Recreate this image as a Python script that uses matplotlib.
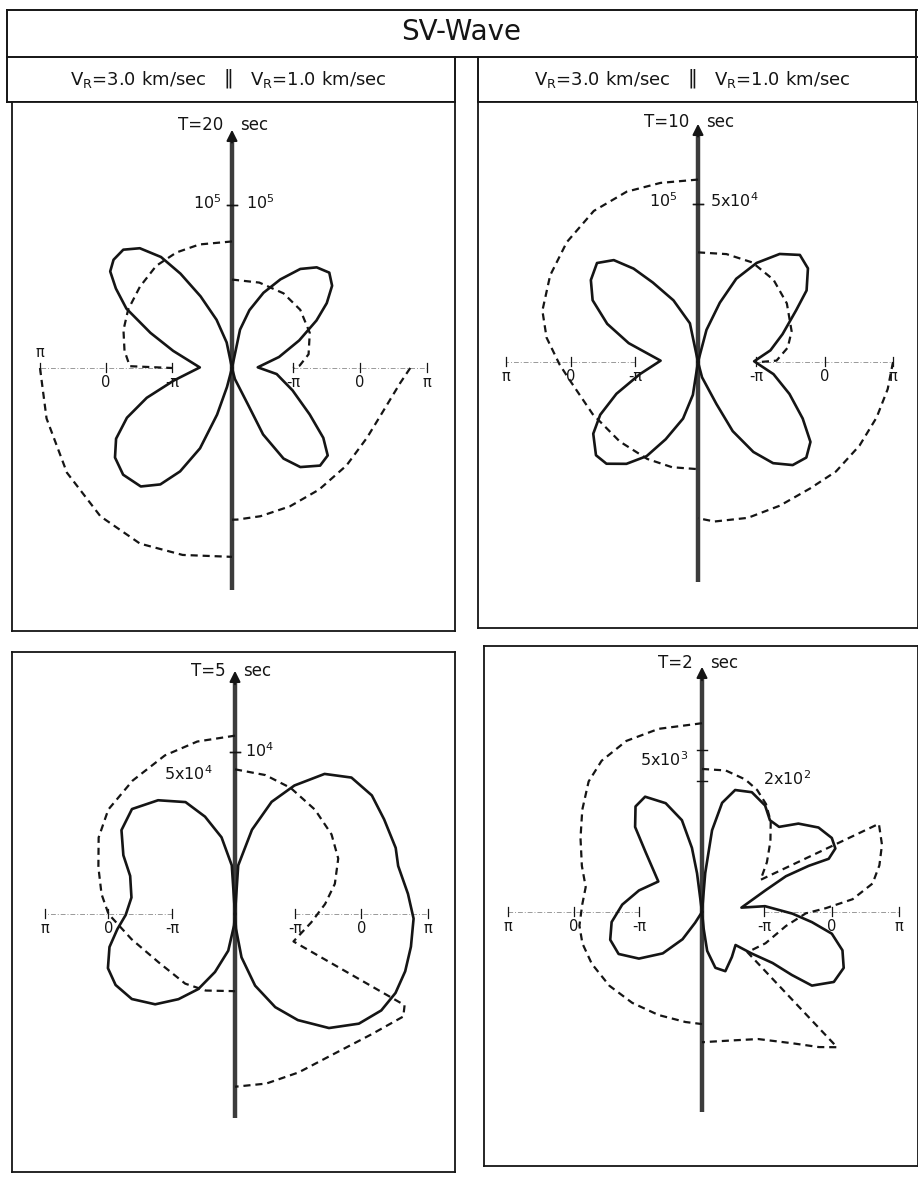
import matplotlib
matplotlib.use("Agg")
import matplotlib.pyplot as plt
import numpy as np

W, H = 918, 1177
nan = np.nan

# ---------------------------------------------------------------------------
# Data.
# Angles: degrees measured from the upward vertical axis (0 = up, 180 = down).
# Amplitude: absolute units (solid curves). Phase: units of pi (dashed curves),
# nan marks a break in the dashed curve.
# ---------------------------------------------------------------------------

# T = 20 sec
t20_amp_l_ang = [0, 12, 18, 24, 29, 33, 38, 43, 48, 52, 56, 61, 67, 74, 89, 102, 109, 115,
                 121, 127, 134, 142, 148, 153, 158, 162, 165, 180]
t20_amp_l = np.array([0, 0.16, 0.31, 0.48, 0.66, 0.81, 0.93, 0.99, 0.99, 0.96, 0.87, 0.75, 0.55,
                      0.38, 0.20, 0.37, 0.56, 0.72, 0.84, 0.91, 0.94, 0.92, 0.84, 0.71, 0.53,
                      0.30, 0.12, 0]) * 1e5
t20_amp_r_ang = [0, 12, 17, 23, 29, 35, 40.5, 46, 51, 56, 61, 68, 77, 88.5, 97.6, 110, 120.5,
                 127, 132, 137.5, 145, 150, 154.6, 156, 165, 180]
t20_amp_r = np.array([0, 0.24, 0.37, 0.50, 0.62, 0.74, 0.81, 0.84, 0.80, 0.71, 0.60, 0.45, 0.30,
                      0.16, 0.28, 0.40, 0.56, 0.71, 0.80, 0.81, 0.74, 0.64, 0.45, 0.25, 0.07,
                      0]) * 1e5
t20_ph_l_ang = [0, 15, 26, 37, 49, 61, 71, 81, 89, 90, nan, 90, 105, 122, 138, 152, 165, 180]
t20_ph_l = [-0.02, 0.0, 0.01, 0.0, -0.06, -0.11, -0.17, -0.26, -0.36, -1.0, nan,
            1.0, 1.0, 1.04, 1.07, 1.06, 0.98, 0.91]
t20_ph_r_ang = [0, 18, 35, 50, 66, 80, 88, 90, nan, 90, 95, 106, 117, 130, 144, 157, 169, 178, 180]
t20_ph_r = [-0.61, -0.59, -0.57, -0.58, -0.64, -0.75, -0.90, -1.0, nan,
            0.75, 0.61, 0.43, 0.35, 0.32, 0.30, 0.30, 0.31, 0.32, 0.32]

# T = 10 sec
t10_amp_l_ang = [0, 12, 22, 30, 35, 40, 46, 53, 60, 67.5, 75, 88, 101.6, 111, 118, 124, 132,
                 137.6, 144.5, 151, 157, 165, 171, 180]
t10_amp_l = np.array([0, 0.25, 0.42, 0.58, 0.72, 0.84, 0.90, 0.86, 0.78, 0.63, 0.46, 0.24, 0.38,
                      0.56, 0.71, 0.81, 0.88, 0.87, 0.79, 0.68, 0.53, 0.37, 0.21, 0]) * 1e5
t10_amp_r_ang = [0, 15, 20.5, 25, 31, 37.5, 44, 50, 57, 62.5, 72, 81, 89.3, 99, 109, 118, 125,
                 131, 137, 143, 148, 153, 156, 165, 180]
t10_amp_r = np.array([0, 0.21, 0.40, 0.58, 0.73, 0.86, 0.94, 0.92, 0.83, 0.71, 0.57, 0.47, 0.36,
                      0.49, 0.62, 0.76, 0.88, 0.92, 0.89, 0.80, 0.67, 0.49, 0.29, 0.10,
                      0]) * 5e4
t10_ph_l_ang = [0, 12, 23, 35, 48, 60, 72, 81, 91, 98, 116, 135, 152, 166, 180]
t10_ph_l = [0.81, 0.82, 0.85, 0.84, 0.76, 0.67, 0.56, 0.40, 0.17, 0.03, -0.16, -0.26, -0.30,
            -0.32, -0.34]
t10_ph_r_ang = [0, 15, 29, 43, 57, 72, 81, 89, 90, nan, 90, 98, 107, 117, 128, 138, 150, 162,
                174, 180]
t10_ph_r = [-0.27, -0.24, -0.21, -0.23, -0.30, -0.41, -0.52, -0.70, -0.94, nan,
            1.0, 0.95, 0.88, 0.80, 0.71, 0.60, 0.54, 0.51, 0.46, 0.40]

# T = 5 sec
t5_amp_l_ang = [0, 4, 10.5, 18, 25, 35.5, 46, 55, 63.5, 71, 81.4, 90.5, 97, 104, 112, 119.4,
                128, 137, 145, 152.7, 160, 169, 175, 180]
t5_amp_l = np.array([0, 0.30, 0.48, 0.63, 0.76, 0.86, 0.93, 0.90, 0.81, 0.72, 0.68, 0.71, 0.77,
                     0.84, 0.89, 0.89, 0.85, 0.76, 0.64, 0.52, 0.38, 0.23, 0.07, 0]) * 5e4
t5_amp_r_ang = [0, 4, 12, 19, 26, 34, 42, 50.6, 59, 68.7, 74.4, 83.7, 91.4, 100, 107.7, 115,
                122, 130, 139, 148, 155.5, 163.5, 171, 176, 180]
t5_amp_r = np.array([0, 0.30, 0.53, 0.73, 0.88, 1.04, 1.13, 1.15, 1.13, 1.12, 1.10, 1.13, 1.16,
                     1.16, 1.16, 1.15, 1.12, 1.05, 0.93, 0.77, 0.63, 0.46, 0.27, 0.09, 0]) * 1e4
t5_ph_l_ang = [0, 13, 25, 39, 52, 62, 72, 82, 90, 103, 121, 143, 158, 177, 180]
t5_ph_l = [0.67, 0.65, 0.62, 0.57, 0.54, 0.44, 0.27, 0.13, 0.0, -0.32, -0.59, -0.69, -0.76,
           -0.84, -0.84]
t5_ph_r_ang = [0, 13, 25, 39, 52, 63, 74, 84, 96, 114, 117, 120, 130, 144, 157, 169, 180]
t5_ph_r = [0.16, 0.13, 0.08, 0.01, -0.06, -0.16, -0.34, -0.54, -0.75, -0.94, 0.96, 1.02, 0.77,
           0.58, 0.55, 0.56, 0.56]

# T = 2 sec
t2_amp_l_ang = [0, 7.7, 9.4, 13, 19.4, 27.5, 33.6, 39.7, 44.8, 56.5, 72, 85, 96, 106, 115.5,
                125, 135, 143, 146, 180]
t2_amp_l = np.array([0, 0.24, 0.40, 0.58, 0.71, 0.80, 0.78, 0.68, 0.52, 0.34, 0.43, 0.52, 0.59,
                     0.62, 0.60, 0.50, 0.36, 0.21, 0.08, 0]) * 5e3
t2_amp_r_ang = [0, 5, 7.4, 11, 16, 23.7, 32, 38, 43.7, 49, 55.5, 61.6, 65.7, 68.3, 67.7, 68, 72,
                84, 85, 91, 95, 99, 104.5, 110.5, 116.7, 122.4, 123.6, 124.4, 128.4, 133, 145,
                157.4, 165.8, 172, 174, 180]
t2_amp_r = np.array([0, 0.30, 0.63, 0.85, 0.97, 1.00, 0.96, 0.89, 0.90, 1.03, 1.14, 1.19, 1.18,
                     1.10, 0.93, 0.73, 0.54, 0.32, 0.51, 0.73, 0.89, 1.06, 1.17, 1.22, 1.19,
                     1.05, 0.87, 0.69, 0.51, 0.37, 0.42, 0.49, 0.44, 0.30, 0.13, 0]) * 2e2
t2_ph_l_ang = [0, 14, 25, 35, 42.5, 51, 60, 70, 78.5, 86.7, 96, 104, 114, 127, 141, 156, 171, 180]
t2_ph_l = [0.77, 0.77, 0.77, 0.71, 0.60, 0.39, 0.18, -0.01, -0.15, -0.13, -0.08, -0.08, -0.12,
           -0.19, -0.27, -0.33, -0.35, -0.34]
t2_ph_r_ang = [0, 10, 19, 25.5, 32, 38.7, 45.6, 54, 62.5, 64.7, 70.5, 76, 81, 85.4, 88.3, 90.7,
               99, 115, 130, 133.5, 137.6, 144, 155, 166, 180]
t2_ph_r = [0.09, 0.10, 0.05, -0.02, -0.13, -0.29, -0.50, -0.73, -0.94, 0.98, 0.91, 0.79, 0.64,
           0.32, -0.08, -0.38, -0.66, -0.88, -1.04, 0.84, 0.65, 0.36, 0.05, -0.06, -0.09]

periods = ["T=20", "T=10", "T=5", "T=2"]
scale_values = [(1e5, 1e5), (1e5, 5e4), (5e4, 1e4), (5e3, 2e2)]
scale_labels = [("10$^5$", "10$^5$"), ("10$^5$", "5x10$^4$"), ("5x10$^4$", "10$^4$"),
                ("5x10$^3$", "2x10$^2$")]
amp_curves = [((t20_amp_l_ang, t20_amp_l), (t20_amp_r_ang, t20_amp_r)),
              ((t10_amp_l_ang, t10_amp_l), (t10_amp_r_ang, t10_amp_r)),
              ((t5_amp_l_ang, t5_amp_l), (t5_amp_r_ang, t5_amp_r)),
              ((t2_amp_l_ang, t2_amp_l), (t2_amp_r_ang, t2_amp_r))]
phase_curves = [((t20_ph_l_ang, t20_ph_l), (t20_ph_r_ang, t20_ph_r)),
                ((t10_ph_l_ang, t10_ph_l), (t10_ph_r_ang, t10_ph_r)),
                ((t5_ph_l_ang, t5_ph_l), (t5_ph_r_ang, t5_ph_r)),
                ((t2_ph_l_ang, t2_ph_l), (t2_ph_r_ang, t2_ph_r))]
phase_ticks = [-1, 0, 1]
phase_tick_labels = ["-π", "0", "π"]

# ---------------------------------------------------------------------------
# Layout (figure pixels). box = panel frame, c = origin of the pattern,
# k = vertical stretch of the drawing, R = radius of the amplitude tick,
# ring = radius of the -pi and +pi phase ticks on each side.
# ---------------------------------------------------------------------------
layout = [
    dict(box=(12, 102, 455, 631), c=(232, 368), k=1.015, tip=127, bottom=590,
         R=(161, 161), ring=((60, 192), (61, 195)), lbl_y=(203, 203),
         lbl_x=(222, 246), t_y=125, pi_above_left=True),
    dict(box=(478, 102, 918, 628), c=(698, 362), k=1.015, tip=121, bottom=582,
         R=(156, 156), ring=((63, 192), (58, 195)), lbl_y=(201, 201),
         lbl_x=(678, 710), t_y=122, pi_above_left=False),
    dict(box=(12, 652, 455, 1172), c=(235, 914), k=1.055, tip=668, bottom=1118,
         R=(154, 154), ring=((63, 190), (60, 193)), lbl_y=(774, 751),
         lbl_x=(213, 245), t_y=671, pi_above_left=False),
    dict(box=(484, 646, 918, 1166), c=(702, 912), k=1.055, tip=664, bottom=1112,
         R=(154, 124), ring=((63, 194), (62, 197)), lbl_y=(760, 779),
         lbl_x=(688, 763), t_y=663, pi_above_left=False),
]

INK = "#151515"
fig = plt.figure(figsize=(W / 100, H / 100), dpi=100)
bg = fig.add_axes([0, 0, 1, 1])
bg.set_xlim(0, W)
bg.set_ylim(H, 0)
bg.axis("off")


def ftext(x, y, s, **kw):
    kw.setdefault("color", INK)
    fig.text(x / W, 1 - y / H, s, **kw)


# header boxes
lw_box = 1.4
bg.plot([7, 917], [10, 10], color=INK, lw=lw_box)
bg.plot([7, 917], [57, 57], color=INK, lw=lw_box)
bg.plot([7, 7], [10, 102], color=INK, lw=lw_box)
bg.plot([916, 916], [10, 102], color=INK, lw=lw_box)
bg.plot([455, 455], [57, 102], color=INK, lw=lw_box)
bg.plot([478, 478], [57, 102], color=INK, lw=lw_box)
bg.plot([7, 455], [102, 102], color=INK, lw=lw_box)
bg.plot([478, 917], [102, 102], color=INK, lw=lw_box)
ftext(461, 32, "SV-Wave", ha="center", va="center", fontsize=20)
for xm in (228, 692):
    ftext(xm, 78, "‖", ha="center", va="center", fontsize=14)
    ftext(xm - 22, 79, r"V$_\mathregular{R}$=3.0 km/sec", ha="right", va="center", fontsize=13)
    ftext(xm + 22, 79, r"V$_\mathregular{R}$=1.0 km/sec", ha="left", va="center", fontsize=13)


def draw_panel(i):
    lay = layout[i]
    x0, y0, x1, y1 = lay["box"]
    cx, cy = lay["c"]
    k = lay["k"]
    ax = fig.add_axes([x0 / W, 1 - y1 / H, (x1 - x0) / W, (y1 - y0) / H])
    ax.set_xlim(x0 - cx, x1 - cx)
    ax.set_ylim((cy - y1) / k, (cy - y0) / k)
    ax.set_xticks([])
    ax.set_yticks([])
    for sp in ax.spines.values():
        sp.set_linewidth(1.3)
        sp.set_color(INK)

    # vertical axis with arrow
    ytip = (cy - lay["tip"]) / k
    ybot = (cy - lay["bottom"]) / k
    ax.plot([0, 0], [ybot, ytip - 10], color="#3c3c3c", lw=3.2, solid_capstyle="butt")
    ax.annotate("", xy=(0, ytip), xytext=(0, ytip - 18),
                arrowprops=dict(arrowstyle="-|>", color=INK, lw=1.5, mutation_scale=16))

    for side, sgn in ((0, -1), (1, 1)):
        rm, rp = lay["ring"][side]
        half = (rp - rm) / 2.0

        # horizontal phase reference line and ticks
        ax.plot([sgn * rm, sgn * rp], [0, 0], color="0.6", lw=0.7, ls=(0, (5, 2, 1, 2)))
        for p, lbl in zip(phase_ticks, phase_tick_labels):
            xp = sgn * (rm + (p + 1) * half)
            ax.plot([xp, xp], [-4, 5], color=INK, lw=0.9)
            if side == 0 and p == 1 and lay["pi_above_left"]:
                ax.text(xp, 8, lbl, ha="center", va="bottom", fontsize=10.5, color=INK)
            else:
                ax.text(xp, -7, lbl, ha="center", va="top", fontsize=10.5, color=INK)

        # amplitude (solid)
        ang, amp = amp_curves[i][side]
        th = np.radians(np.asarray(ang, dtype=float))
        r = np.asarray(amp) / scale_values[i][side] * lay["R"][side]
        ax.plot(sgn * r * np.sin(th), r * np.cos(th), color=INK, lw=1.9,
                solid_joinstyle="round")

        # phase (dashed)
        ang, ph = phase_curves[i][side]
        th = np.radians(np.asarray(ang, dtype=float))
        r = rm + (np.asarray(ph, dtype=float) + 1) * half
        ax.plot(sgn * r * np.sin(th), r * np.cos(th), color=INK, lw=1.6,
                ls=(0, (3.2, 2.2)))

        # amplitude scale tick
        R = lay["R"][side]
        ax.plot([-5, 5], [R, R], color=INK, lw=1.0)

    # labels in figure pixels
    ftext(cx - 9, lay["t_y"], periods[i], ha="right", va="center", fontsize=12)
    ftext(cx + 8, lay["t_y"], "sec", ha="left", va="center", fontsize=12)
    ftext(lay["lbl_x"][0], lay["lbl_y"][0], scale_labels[i][0], ha="right", va="center",
          fontsize=11.5)
    ftext(lay["lbl_x"][1], lay["lbl_y"][1], scale_labels[i][1], ha="left", va="center",
          fontsize=11.5)


for i in range(4):
    draw_panel(i)

fig.savefig("out.png", dpi=100, facecolor="white")
